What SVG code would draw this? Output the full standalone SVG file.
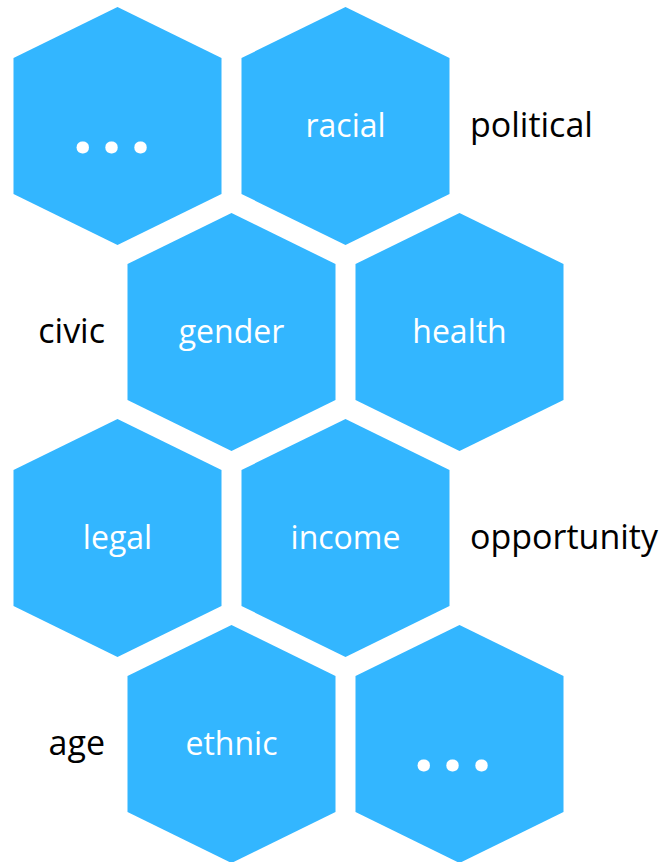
<svg xmlns="http://www.w3.org/2000/svg" width="662" height="862" viewBox="0 0 662 862">
  <defs>
    <!-- pointy-top hexagon centred at the origin -->
    <polygon id="hex" points="0,-119 104,-68 104,68 0,119 -104,68 -104,-68"/>
  </defs>
  <style>
    .cell { fill: #33B6FF; }
    .in { font-family: "Open Sans", "Noto Sans", sans-serif; font-size: 32px; fill: #FFFFFF; text-anchor: middle; }
    .out { font-family: "Open Sans", "Noto Sans", sans-serif; font-size: 34px; fill: #000000; }
    .left { text-anchor: end; }
    .dots { font-family: "Open Sans", "Noto Sans", sans-serif; font-weight: bold; font-size: 72px; fill: #FFFFFF; letter-spacing: 8.3px; }
  </style>
  <rect width="662" height="862" fill="#FFFFFF"/>

  <g id="connectors"/>

  <!-- row 1 -->
  <g id="node-more-top">
    <use href="#hex" class="cell" x="117.5" y="126"/>
    <text class="dots" x="72.5" y="152.5">...</text>
  </g>
  <g id="node-racial">
    <use href="#hex" class="cell" x="345.5" y="126"/>
    <text class="in" x="345.5" y="137">racial</text>
  </g>
  <text id="label-political" class="out" x="470" y="137">political</text>

  <!-- row 2 -->
  <text id="label-civic" class="out left" x="105" y="343">civic</text>
  <g id="node-gender">
    <use href="#hex" class="cell" x="231.5" y="332"/>
    <text class="in" x="231.5" y="343">gender</text>
  </g>
  <g id="node-health">
    <use href="#hex" class="cell" x="459.5" y="332"/>
    <text class="in" x="459.5" y="343">health</text>
  </g>

  <!-- row 3 -->
  <g id="node-legal">
    <use href="#hex" class="cell" x="117.5" y="538"/>
    <text class="in" x="117.5" y="549">legal</text>
  </g>
  <g id="node-income">
    <use href="#hex" class="cell" x="345.5" y="538"/>
    <text class="in" x="345.5" y="549">income</text>
  </g>
  <text id="label-opportunity" class="out" x="470" y="549">opportunity</text>

  <!-- row 4 -->
  <text id="label-age" class="out left" x="105" y="755">age</text>
  <g id="node-ethnic">
    <use href="#hex" class="cell" x="231.5" y="744"/>
    <text class="in" x="231.5" y="755">ethnic</text>
  </g>
  <g id="node-more-bottom">
    <use href="#hex" class="cell" x="459.5" y="744"/>
    <text class="dots" x="413.5" y="771">...</text>
  </g>
</svg>
